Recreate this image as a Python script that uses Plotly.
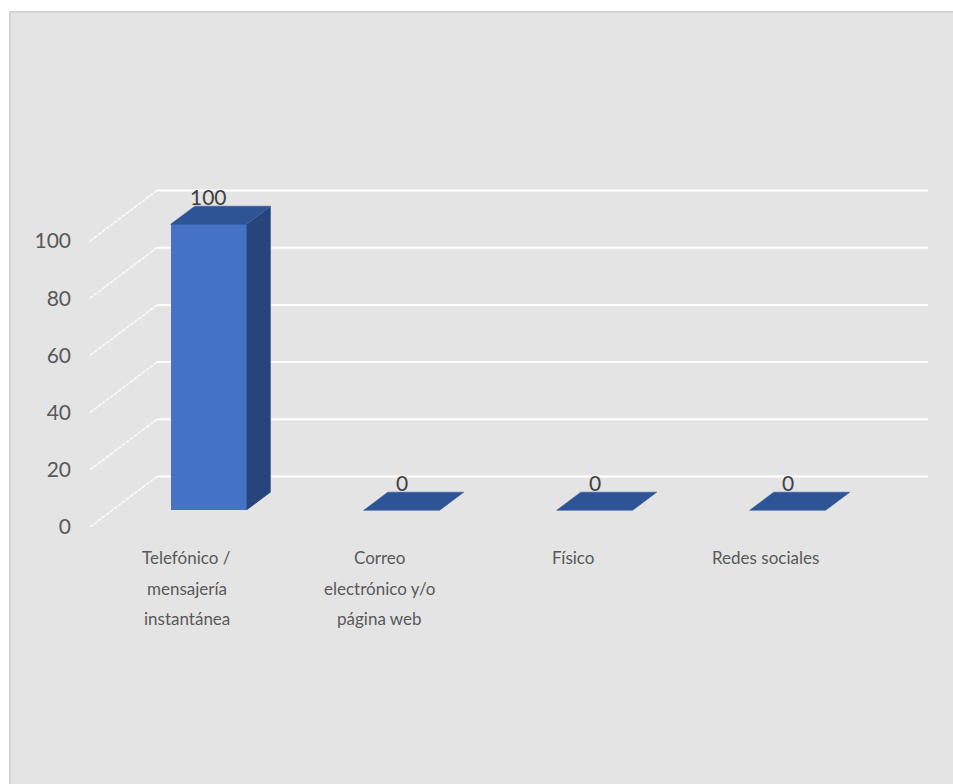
import plotly.graph_objects as go

# ---- data ----
categories = [
    ["Telefónico /", "mensajería", "instantánea"],
    ["Correo", "electrónico y/o", "página web"],
    ["Físico"],
    ["Redes sociales"],
]
values = [100, 0, 0, 0]
tick_values = [0, 20, 40, 60, 80, 100]

# ---- style / geometry ----
FONT = "Lato, 'Open Sans', 'Liberation Sans', sans-serif"
FRONT = "#4472C4"
TOP = "#2F5496"
SIDE = "#27457D"
BG = "#E4E4E4"

W, H = 953, 784
ML, MR, MT, MB = 90, 25, 100, 257
PX_PER_UNIT = 2.86           # vertical pixels per value unit
PX_PER_CAT = 193.0           # horizontal pixels per category
plot_w = W - ML - MR
plot_h = H - MT - MB
x_range = [-0.5, -0.5 + plot_w / PX_PER_CAT]
y_range = [0, plot_h / PX_PER_UNIT]

DX = 67 / PX_PER_CAT          # depth vector in data units
DY = 50.5 / PX_PER_UNIT
D0, D1 = 0.33, 0.69           # bar depth start / end (fractions)
BW = 76 / PX_PER_CAT          # bar width

fig = go.Figure()

# front faces of bars
xs_front = [i + D0 * DX for i in range(len(values))]
fig.add_trace(go.Bar(
    x=xs_front, y=values, base=[D0 * DY] * len(values), width=BW,
    marker=dict(color=FRONT, line=dict(width=0)),
    hoverinfo="skip", showlegend=False,
))

dd = D1 - D0
for i, v in enumerate(values):
    xl = xs_front[i] - BW / 2
    xr = xs_front[i] + BW / 2
    base = D0 * DY
    top = v + base
    if v > 0:
        # side face
        fig.add_trace(go.Scatter(
            x=[xr, xr, xr + dd * DX, xr + dd * DX, xr],
            y=[base, top, top + dd * DY, base + dd * DY, base],
            fill="toself", fillcolor=SIDE, mode="lines",
            line=dict(width=0, color=SIDE), hoverinfo="skip", showlegend=False,
        ))
    # top face
    fig.add_trace(go.Scatter(
        x=[xl, xr, xr + dd * DX, xl + dd * DX, xl],
        y=[top, top, top + dd * DY, top + dd * DY, top],
        fill="toself", fillcolor=TOP, mode="lines",
        line=dict(width=0.5, color=TOP), hoverinfo="skip", showlegend=False,
    ))

shapes = []
# chart card background
shapes.append(dict(
    type="rect", xref="paper", yref="paper", layer="below",
    x0=(10 - ML) / plot_w, x1=(W + 5 - ML) / plot_w,
    y0=(H - MB - (H + 5)) / plot_h, y1=(H - MB - 12) / plot_h,
    fillcolor=BG, line=dict(color="#D4D4D4", width=2),
))
# gridlines: back wall + left wall diagonals
for t in tick_values:
    shapes.append(dict(
        type="line", xref="x", yref="y", layer="below",
        x0=-0.5 + DX, x1=3.5 + DX, y0=t + DY, y1=t + DY,
        line=dict(color="#FFFFFF", width=2),
    ))
    shapes.append(dict(
        type="line", xref="x", yref="y", layer="below",
        x0=-0.5, x1=-0.5 + DX, y0=t, y1=t + DY,
        line=dict(color="#FAFAFA", width=1.6, dash="4px,1px"),
    ))

annotations = []
# data labels
for i, v in enumerate(values):
    annotations.append(dict(
        x=xs_front[i], y=v + D1 * DY, xref="x", yref="y",
        text=str(v), showarrow=False, yanchor="bottom", yshift=-5,
        font=dict(family=FONT, size=21, color="#404040"),
    ))
# category labels
line_offsets = [30, 61, 91]
for i, lines in enumerate(categories):
    for j, txt in enumerate(lines):
        annotations.append(dict(
            x=i, y=0, xref="x", yref="y", text=txt, showarrow=False,
            yanchor="middle", xanchor="center", yshift=-line_offsets[j],
            font=dict(family=FONT, size=17, color="#595959"),
        ))

fig.update_layout(
    width=W, height=H,
    margin=dict(l=ML, r=MR, t=MT, b=MB, pad=0),
    paper_bgcolor="#FFFFFF", plot_bgcolor="rgba(0,0,0,0)",
    shapes=shapes, annotations=annotations,
    bargap=0,
    xaxis=dict(range=x_range, showgrid=False, zeroline=False,
               showticklabels=False, showline=False, fixedrange=True),
    yaxis=dict(range=y_range, showgrid=False, zeroline=False, showline=False,
               tickmode="array", tickvals=tick_values,
               ticktext=[str(t) for t in tick_values],
               tickfont=dict(family=FONT, size=21, color="#595959"),
               ticks="", ticklabelstandoff=18, fixedrange=True),
    font=dict(family=FONT),
)

fig.write_html(
    "out.html",
    config={"displayModeBar": False},
    post_script="document.body.style.margin='0';document.body.style.overflow='hidden';",
)
